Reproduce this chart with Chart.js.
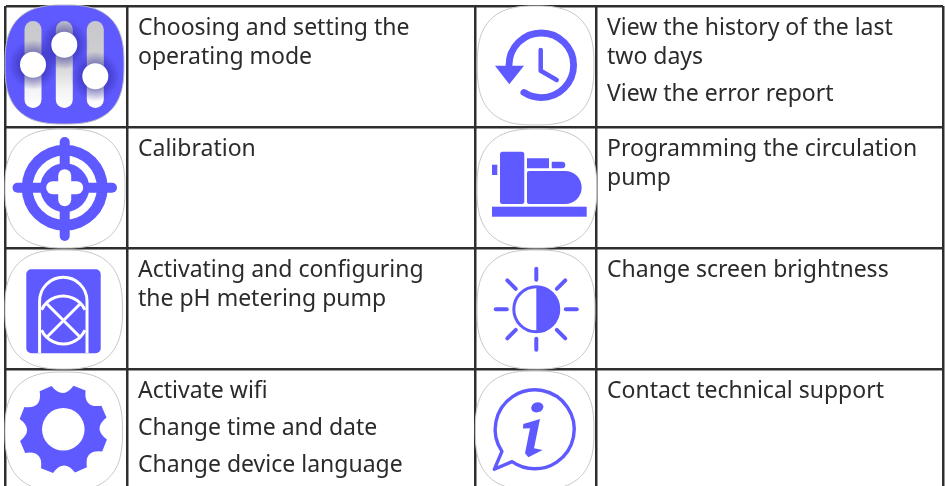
<!DOCTYPE html>
<html>
<head>
<meta charset="utf-8">
<style>
    html, body { margin: 0; padding: 0; background: #fff; }
    canvas { display: block; }
</style>
<script src="https://cdn.jsdelivr.net/npm/chart.js@4"></script>
</head>
<body>
<canvas id="table-chart" width="945" height="486"></canvas>
<script>
// table borders, used as axis ticks
const colEdges = [5.5, 127, 475, 596, 943]
const rowEdges = [6, 127, 248, 369]

// one entry per cell, left column then right column. inner arrays are paragraphs
const leftCells = [
    [["Choosing and setting the", "operating mode"]],
    [["Calibration"]],
    [["Activating and configuring", "the pH metering pump"]],
    [["Activate wifi"], ["Change time and date"], ["Change device language"]]
]
const rightCells = [
    [["View the history of the last", "two days"], ["View the error report"]],
    [["Programming the circulation", "pump"]],
    [["Change screen brightness"]],
    [["Contact technical support"]]
]

const PURPLE = "#5f5aff"
const INK = "#2b2b2b"
const FONT = '23px "Noto Sans"'

const squircle = (ctx, x0, y0, x1, y1) => {
    const cx = (x0 + x1) / 2, cy = (y0 + y1) / 2
    const rx = (x1 - x0) / 2, ry = (y1 - y0) / 2
    ctx.beginPath()
    for (let i = 0; i <= 120; i++) {
        const a = i / 120 * Math.PI * 2
        const c = Math.cos(a), s = Math.sin(a)
        const px = cx + rx * Math.sign(c) * Math.pow(Math.abs(c), 2 / 2.7)
        const py = cy + ry * Math.sign(s) * Math.pow(Math.abs(s), 2 / 2.7)
        if (i == 0) ctx.moveTo(px, py)
        else ctx.lineTo(px, py)
    }
    ctx.closePath()
}

const plate = (ctx, x0, y0, x1, y1) => {
    squircle(ctx, x0, y0, x1, y1)
    ctx.fillStyle = "#fff"
    ctx.fill()
    ctx.strokeStyle = "#c6c6c8"
    ctx.lineWidth = 1
    ctx.stroke()
}

const line = (ctx, pts, width, color = PURPLE) => {
    ctx.beginPath()
    pts.forEach((p, i) => i == 0 ? ctx.moveTo(p[0], p[1]) : ctx.lineTo(p[0], p[1]))
    ctx.lineWidth = width
    ctx.strokeStyle = color
    ctx.lineCap = "round"
    ctx.lineJoin = "round"
    ctx.stroke()
}

const fillPoly = (ctx, pts, color = PURPLE) => {
    ctx.beginPath()
    pts.forEach((p, i) => i == 0 ? ctx.moveTo(p[0], p[1]) : ctx.lineTo(p[0], p[1]))
    ctx.closePath()
    ctx.fillStyle = color
    ctx.fill()
}

const disc = (ctx, x, y, r, color) => {
    ctx.beginPath()
    ctx.arc(x, y, r, 0, Math.PI * 2)
    ctx.fillStyle = color
    ctx.fill()
}

const drawSliders = ctx => {
    squircle(ctx, 5, 5, 124, 124)
    ctx.fillStyle = PURPLE
    ctx.fill()
    ctx.strokeStyle = "#b9b9c4"
    ctx.lineWidth = 1
    ctx.stroke()
    const knobs = [[33, 64.7], [64.3, 44.7], [95.3, 76.3]]
    knobs.forEach(k => {
        const g = ctx.createLinearGradient(0, 21, 0, 108)
        g.addColorStop(0, "#c8c8cc")
        g.addColorStop(0.45, "#cfcfd2")
        g.addColorStop(0.8, "#f4f4f4")
        g.addColorStop(1, "#ffffff")
        line(ctx, [[k[0], 29.5], [k[0], 99.5]], 17, g)
    })
    ctx.save()
    squircle(ctx, 5, 5, 124, 124)
    ctx.clip()
    knobs.forEach(k => {
        const g = ctx.createRadialGradient(k[0], k[1], 10, k[0], k[1], 25)
        g.addColorStop(0, "rgba(40,34,150,0.6)")
        g.addColorStop(1, "rgba(40,34,150,0)")
        disc(ctx, k[0], k[1], 25, g)
    })
    ctx.restore()
    knobs.forEach(k => disc(ctx, k[0], k[1], 13, "#fff"))
}

const drawTarget = ctx => {
    plate(ctx, 5, 129, 125, 248)
    const x = 64.7, y = 187.7
    disc(ctx, x, y, 43, PURPLE)
    disc(ctx, x, y, 32.2, "#fff")
    disc(ctx, x, y, 24.5, PURPLE)
    line(ctx, [[x, 142], [x, 236]], 10)
    line(ctx, [[17.5, y], [112, y]], 10)
    line(ctx, [[x, y - 12], [x, y + 12]], 13, "#fff")
    line(ctx, [[x - 12, y], [x + 12, y]], 13, "#fff")
}

const drawValve = ctx => {
    plate(ctx, 5, 250, 122.5, 369)
    ctx.beginPath()
    ctx.roundRect(26.3, 269.3, 74.4, 84, 5)
    ctx.fillStyle = PURPLE
    ctx.fill()
    ctx.save()
    ctx.beginPath()
    ctx.rect(26.3, 269.3, 74.4, 84)
    ctx.clip()
    ctx.lineCap = "butt"
    ctx.strokeStyle = "#fff"
    ctx.lineWidth = 3
    ctx.beginPath()
    ctx.moveTo(39.6, 354)
    ctx.lineTo(39.6, 301)
    ctx.arc(63.3, 301, 23.7, Math.PI, 0)
    ctx.lineTo(87, 354)
    ctx.stroke()
    ctx.beginPath()
    ctx.arc(63.3, 320, 24, Math.PI * 1.14, Math.PI * 1.86)
    ctx.stroke()
    ctx.beginPath()
    ctx.arc(63.3, 320, 24, Math.PI * 0.14, Math.PI * 0.86)
    ctx.stroke()
    ctx.beginPath()
    ctx.moveTo(46, 303)
    ctx.lineTo(81, 338)
    ctx.moveTo(81, 303)
    ctx.lineTo(46, 338)
    ctx.stroke()
    ctx.restore()
}

const drawGear = ctx => {
    plate(ctx, 5, 372, 122.5, 491)
    const x = 63.3, y = 429.3
    ctx.beginPath()
    for (let i = 0; i < 8; i++) {
        const base = -Math.PI / 2 + i * Math.PI / 4
        const a0 = base + 0.23, a1 = base + 0.52
        const next = base + Math.PI / 4 + 0.23
        const mid = (a1 + next) / 2
        ctx[i == 0 ? "moveTo" : "lineTo"](x + Math.cos(a0) * 44.8, y + Math.sin(a0) * 44.8)
        ctx.lineTo(x + Math.cos(a1) * 44.8, y + Math.sin(a1) * 44.8)
        ctx.quadraticCurveTo(x + Math.cos(mid) * 29, y + Math.sin(mid) * 29, x + Math.cos(next) * 44.8, y + Math.sin(next) * 44.8)
    }
    ctx.closePath()
    ctx.fillStyle = PURPLE
    ctx.fill()
    disc(ctx, x, y, 21.3, "#fff")
}

const drawHistory = ctx => {
    plate(ctx, 477.3, 6, 594, 125)
    const x = 541.3, y = 65.3
    const end = Math.atan2(90.7 - y, 525 - x)
    ctx.beginPath()
    ctx.arc(x, y, 32.3, Math.PI, end + Math.PI * 2)
    ctx.lineWidth = 6.8
    ctx.strokeStyle = PURPLE
    ctx.lineCap = "round"
    ctx.stroke()
    fillPoly(ctx, [[495, 65.7], [524, 65.7], [509.3, 84.3]])
    line(ctx, [[540.7, 50], [540.7, 70.7], [556.7, 80]], 4.5)
}

const drawPump = ctx => {
    plate(ctx, 477, 129, 596.7, 248)
    ctx.fillStyle = PURPLE
    ctx.fillRect(492, 206.7, 94.7, 10)
    ctx.fillRect(492, 164.7, 5.3, 10.3)
    ctx.beginPath()
    ctx.roundRect(500, 151.7, 24.3, 52.3, 2.5)
    ctx.rect(527, 158.3, 22, 10)
    ctx.roundRect(551.7, 161.7, 13.6, 6.6, [1, 3.3, 3.3, 1])
    ctx.roundRect(527, 171, 54.7, 33, [2, 16.5, 16.5, 2])
    ctx.fill()
}

const drawSun = ctx => {
    plate(ctx, 477, 250, 595, 369)
    const x = 536.3, y = 309.3
    ctx.beginPath()
    ctx.arc(x, y, 22.5, 0, Math.PI * 2)
    ctx.lineWidth = 3
    ctx.strokeStyle = PURPLE
    ctx.stroke()
    ctx.beginPath()
    ctx.arc(x, y, 22.5, -Math.PI / 2, Math.PI / 2)
    ctx.closePath()
    ctx.fillStyle = PURPLE
    ctx.fill()
    for (let i = 0; i < 8; i++) {
        const a = i * Math.PI / 4
        const r0 = i % 2 ? 29 : 29.5
        const r1 = i % 2 ? 41 : 40.5
        line(ctx, [[x + Math.cos(a) * r0, y + Math.sin(a) * r0], [x + Math.cos(a) * r1, y + Math.sin(a) * r1]], 4)
    }
}

const drawInfo = ctx => {
    plate(ctx, 475.3, 371, 594, 490)
    const x = 534.7, y = 429.3
    ctx.beginPath()
    ctx.arc(x, y, 39.5, 146 * Math.PI / 180, (125 + 360) * Math.PI / 180)
    ctx.lineTo(494.3, 469.3)
    ctx.closePath()
    ctx.lineWidth = 3.4
    ctx.strokeStyle = PURPLE
    ctx.lineJoin = "round"
    ctx.stroke()
    ctx.beginPath()
    ctx.ellipse(537.3, 407.3, 6.2, 5, -0.3, 0, Math.PI * 2)
    ctx.fillStyle = PURPLE
    ctx.fill()
    fillPoly(ctx, [[523.3, 424], [540, 419], [534, 448.3], [542.7, 450], [528.3, 457.3], [525, 453.3], [530, 428.3], [523, 428.5]])
}

const icons = [drawSliders, drawTarget, drawValve, drawGear, drawHistory, drawPump, drawSun, drawInfo]

// every cell gets an anchor point, so the text goes through the scales
const cellAnchors = []
const cellTexts = []
leftCells.forEach((c, i) => { cellAnchors.push({ x: colEdges[1], y: rowEdges[i] }); cellTexts.push(c) })
rightCells.forEach((c, i) => { cellAnchors.push({ x: colEdges[3], y: rowEdges[i] }); cellTexts.push(c) })

const tablePlugin = {
    id: "tableCells",
    afterDraw(chart) {
        const ctx = chart.ctx
        icons.forEach(draw => {
            ctx.save()
            draw(ctx)
            ctx.restore()
        })
        const points = chart.getDatasetMeta(0).data
        ctx.save()
        ctx.font = FONT
        ctx.fillStyle = INK
        ctx.textBaseline = "alphabetic"
        points.forEach((pt, i) => {
            let y = pt.y + 28.5
            cellTexts[i].forEach(par => {
                par.forEach((txt, n) => {
                    ctx.fillText(txt, pt.x + 11, y)
                    y += n < par.length - 1 ? 29.5 : 0
                })
                y += 37
            })
        })
        ctx.restore()
    }
}

const axis = (min, max, edges, reverse) => ({
    type: "linear",
    min: min,
    max: max,
    reverse: reverse,
    border: { display: false },
    ticks: { display: false, autoSkip: false },
    grid: { color: "#2e2e2e", lineWidth: 2.5, drawTicks: false },
    afterBuildTicks: scale => { scale.ticks = edges.map(v => ({ value: v })) }
})

new Chart(document.getElementById("table-chart"), {
    type: "scatter",
    data: {
        datasets: [{ data: cellAnchors, pointRadius: 0 }]
    },
    options: {
        responsive: false,
        animation: false,
        devicePixelRatio: 1,
        layout: { padding: { left: colEdges[0], top: rowEdges[0], right: 945 - colEdges[4], bottom: 0 } },
        plugins: { legend: { display: false }, tooltip: { enabled: false }, title: { display: false } },
        scales: {
            x: axis(colEdges[0], colEdges[4], colEdges, false),
            y: axis(rowEdges[0], 486, rowEdges, true)
        }
    },
    plugins: [tablePlugin]
})
</script>
</body>
</html>
